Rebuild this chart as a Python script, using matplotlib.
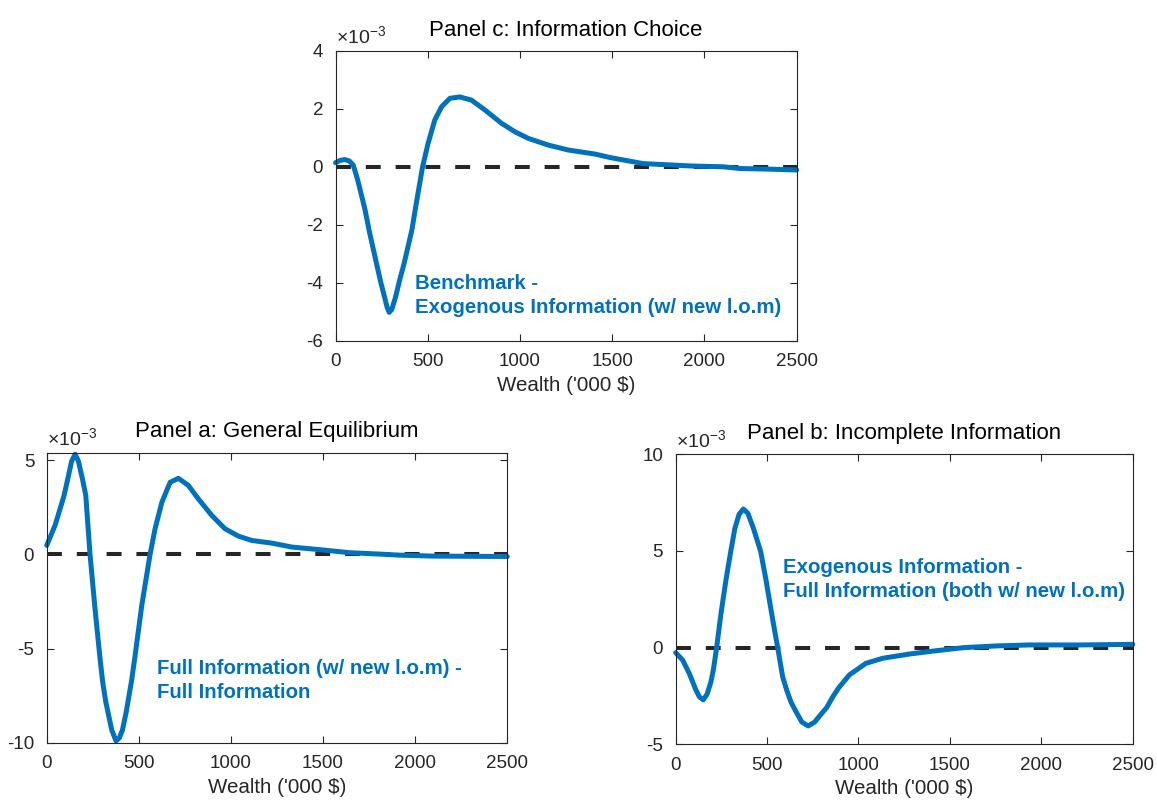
import matplotlib
matplotlib.use("Agg")
import matplotlib.pyplot as plt

plt.rcParams['font.family'] = ['Liberation Sans', 'DejaVu Sans']
plt.rcParams['mathtext.fontset'] = 'custom'
plt.rcParams['mathtext.rm'] = 'Liberation Sans'
plt.rcParams['axes.unicode_minus'] = False

BLUE = '#0072BD'
GRAY = '#262626'

# wealth grid ('000 $) and differences (x 1e-3) for each panel
wealth_c = [0, 25, 50, 75, 96, 120, 159, 184, 222, 246, 264, 280, 291, 305, 325, 348, 372,
            414, 440, 472, 502, 538, 575, 620, 674, 737, 810, 900, 972, 1045, 1153, 1261,
            1406, 1488, 1668, 1800, 1921, 2102, 2193, 2350, 2500]
diff_c = [0.14, 0.22, 0.25, 0.2, 0.06, -0.45, -1.45, -2.25, -3.33, -4.0, -4.45, -4.85,
          -5.02, -4.92, -4.5, -3.9, -3.33, -2.18, -1.18, 0.0, 0.81, 1.61, 2.07, 2.36, 2.41,
          2.30, 1.96, 1.50, 1.21, 0.98, 0.75, 0.58, 0.44, 0.32, 0.11, 0.07, 0.03, 0.0,
          -0.06, -0.08, -0.11]

wealth_a = [0, 45, 81, 94, 114, 135, 154, 172, 194, 212, 235, 262, 289, 304, 320, 335,
            353, 376, 394, 411, 431, 461, 480, 516, 561, 588, 625, 670, 715, 769, 823, 896,
            968, 1041, 1113, 1222, 1331, 1483, 1646, 1800, 1918, 2099, 2300, 2500]
diff_a = [0.48, 1.54, 2.7, 3.13, 4.0, 4.95, 5.32, 4.95, 4.0, 3.13, 0.0, -2.88, -5.5,
          -6.8, -7.8, -8.5, -9.33, -9.9, -9.75, -9.33, -8.39, -6.68, -5.35, -2.70, 0.0,
          1.36, 2.77, 3.83, 4.04, 3.66, 2.95, 2.07, 1.36, 0.97, 0.74, 0.60, 0.39, 0.25,
          0.09, 0.02, -0.04, -0.09, -0.10, -0.11]

wealth_b = [0, 38, 75, 111, 130, 151, 172, 192, 206, 224, 248, 275, 301, 324, 347, 370,
            395, 425, 465, 494, 531, 558, 585, 607, 630, 653, 690, 725, 760, 790, 826, 859,
            890, 950, 1041, 1132, 1278, 1415, 1574, 1756, 1938, 2212, 2500]
diff_b = [-0.26, -0.64, -1.35, -2.2, -2.55, -2.7, -2.4, -1.8, -1.15, 0.0, 1.78, 3.5, 4.97,
          6.18, 6.9, 7.17, 6.95, 6.18, 4.97, 3.5, 1.43, 0.0, -1.5, -2.19, -2.8, -3.22,
          -3.85, -4.05, -3.85, -3.5, -3.1, -2.55, -2.1, -1.41, -0.81, -0.55, -0.33, -0.17,
          0.0, 0.09, 0.14, 0.14, 0.17]

panels = [
    dict(rect=[0.290, 0.574, 0.3985, 0.3625], x=wealth_c, y=diff_c,
         title='Panel c: Information Choice', ylim=(-6, 4), yticks=[-6, -4, -2, 0, 2, 4],
         label='Benchmark -\nExogenous Information (w/ new l.o.m)', lpos=(430, -4.45)),
    dict(rect=[0.0404, 0.0716, 0.398, 0.3625], x=wealth_a, y=diff_a,
         title='Panel a: General Equilibrium', ylim=(-10, 5.4), yticks=[-10, -5, 0, 5],
         label='Full Information (w/ new l.o.m) -\nFull Information', lpos=(600, -6.7)),
    dict(rect=[0.584, 0.0696, 0.395, 0.3625], x=wealth_b, y=diff_b,
         title='Panel b: Incomplete Information', ylim=(-5, 10), yticks=[-5, 0, 5, 10],
         label='Exogenous Information -\nFull Information (both w/ new l.o.m)', lpos=(589, 3.53)),
]

fig = plt.figure(figsize=(11.57, 8.0), dpi=100)

for p in panels:
    ax = fig.add_axes(p['rect'])
    ax.plot([0, 2500], [0, 0], color=GRAY, lw=2.9, dashes=(3.7, 3.7))
    ax.plot(p['x'], p['y'], color=BLUE, lw=3.6, solid_capstyle='round',
            solid_joinstyle='round', clip_on=False)
    ax.set_xlim(0, 2500)
    ax.set_ylim(*p['ylim'])
    ax.set_xticks([0, 500, 1000, 1500, 2000, 2500])
    ax.set_yticks(p['yticks'])
    ax.tick_params(direction='in', top=True, right=True, length=5, width=0.8,
                   labelsize=13.5, colors=GRAY, pad=9)
    for s in ax.spines.values():
        s.set_color(GRAY)
        s.set_linewidth(0.8)
    ax.set_title(p['title'], fontsize=16, color='black', pad=11)
    ax.set_xlabel("Wealth ('000 $)", fontsize=14.8, color=GRAY, labelpad=4)
    ax.text(0.0, 1.008, r'$\times10^{-3}$', transform=ax.transAxes, fontsize=14,
            color=GRAY, ha='left', va='bottom')
    ax.text(p['lpos'][0], p['lpos'][1], p['label'], color=BLUE, fontsize=14.7,
            fontweight='bold', ha='left', va='center', linespacing=1.35)

fig.savefig('out.png', dpi=100)
